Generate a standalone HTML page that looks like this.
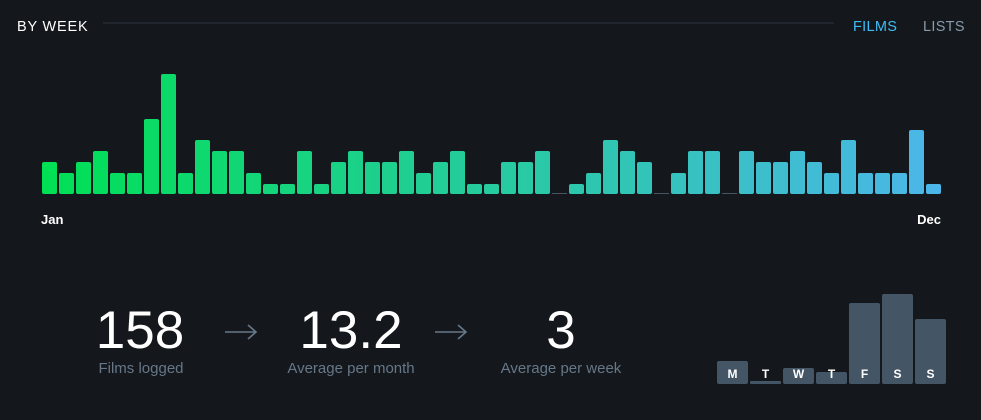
<!DOCTYPE html>
<html><head><meta charset="utf-8"><style>
html,body{margin:0;padding:0;background:#14181c;}
svg{display:block;font-family:"Liberation Sans",sans-serif;}
</style></head><body>
<svg width="981" height="420" viewBox="0 0 981 420" xmlns="http://www.w3.org/2000/svg">
<rect width="981" height="420" fill="#14181c"/>
<defs><linearGradient id="g" gradientUnits="userSpaceOnUse" x1="42" y1="0" x2="941" y2="0">
<stop offset="0" stop-color="#00e054"/><stop offset="1" stop-color="#4cb6ea"/></linearGradient></defs>
<text x="17" y="31" fill="#fff" font-size="14.5" letter-spacing="0.8">BY WEEK</text>
<rect x="103" y="22.5" width="731" height="1" fill="#2c3440"/>
<text x="853" y="31" fill="#40bcf4" font-size="14.5" letter-spacing="0.3">FILMS</text>
<text x="923" y="31" fill="#8899aa" font-size="14.5" letter-spacing="0.3">LISTS</text>
<g fill="url(#g)">
<rect x="42" y="162" width="15" height="32" rx="2"/>
<rect x="59" y="173" width="15" height="21" rx="2"/>
<rect x="76" y="162" width="15" height="32" rx="2"/>
<rect x="93" y="151" width="15" height="43" rx="2"/>
<rect x="110" y="173" width="15" height="21" rx="2"/>
<rect x="127" y="173" width="15" height="21" rx="2"/>
<rect x="144" y="119" width="15" height="75" rx="2"/>
<rect x="161" y="74" width="15" height="120" rx="2"/>
<rect x="178" y="173" width="15" height="21" rx="2"/>
<rect x="195" y="140" width="15" height="54" rx="2"/>
<rect x="212" y="151" width="15" height="43" rx="2"/>
<rect x="229" y="151" width="15" height="43" rx="2"/>
<rect x="246" y="173" width="15" height="21" rx="2"/>
<rect x="263" y="184" width="15" height="10" rx="2"/>
<rect x="280" y="184" width="15" height="10" rx="2"/>
<rect x="297" y="151" width="15" height="43" rx="2"/>
<rect x="314" y="184" width="15" height="10" rx="2"/>
<rect x="331" y="162" width="15" height="32" rx="2"/>
<rect x="348" y="151" width="15" height="43" rx="2"/>
<rect x="365" y="162" width="15" height="32" rx="2"/>
<rect x="382" y="162" width="15" height="32" rx="2"/>
<rect x="399" y="151" width="15" height="43" rx="2"/>
<rect x="416" y="173" width="15" height="21" rx="2"/>
<rect x="433" y="162" width="15" height="32" rx="2"/>
<rect x="450" y="151" width="15" height="43" rx="2"/>
<rect x="467" y="184" width="15" height="10" rx="2"/>
<rect x="484" y="184" width="15" height="10" rx="2"/>
<rect x="501" y="162" width="15" height="32" rx="2"/>
<rect x="518" y="162" width="15" height="32" rx="2"/>
<rect x="535" y="151" width="15" height="43" rx="2"/>
<rect x="569" y="184" width="15" height="10" rx="2"/>
<rect x="586" y="173" width="15" height="21" rx="2"/>
<rect x="603" y="140" width="15" height="54" rx="2"/>
<rect x="620" y="151" width="15" height="43" rx="2"/>
<rect x="637" y="162" width="15" height="32" rx="2"/>
<rect x="671" y="173" width="15" height="21" rx="2"/>
<rect x="688" y="151" width="15" height="43" rx="2"/>
<rect x="705" y="151" width="15" height="43" rx="2"/>
<rect x="739" y="151" width="15" height="43" rx="2"/>
<rect x="756" y="162" width="15" height="32" rx="2"/>
<rect x="773" y="162" width="15" height="32" rx="2"/>
<rect x="790" y="151" width="15" height="43" rx="2"/>
<rect x="807" y="162" width="15" height="32" rx="2"/>
<rect x="824" y="173" width="15" height="21" rx="2"/>
<rect x="841" y="140" width="15" height="54" rx="2"/>
<rect x="858" y="173" width="15" height="21" rx="2"/>
<rect x="875" y="173" width="15" height="21" rx="2"/>
<rect x="892" y="173" width="15" height="21" rx="2"/>
<rect x="909" y="130" width="15" height="64" rx="2"/>
<rect x="926" y="184" width="15" height="10" rx="2"/>
</g>
<g fill="#445566">
<rect x="552" y="193" width="15" height="1"/>
<rect x="654" y="193" width="15" height="1"/>
<rect x="722" y="193" width="15" height="1"/>
</g>
<text x="41" y="224" fill="#fff" font-size="13" font-weight="bold">Jan</text>
<text x="941" y="224" fill="#fff" font-size="13" font-weight="bold" text-anchor="end">Dec</text>
<g fill="#fff" font-size="53" text-anchor="middle">
<text x="140" y="348">158</text>
<text x="351" y="348">13.2</text>
<text x="561" y="348">3</text>
</g>
<g fill="#678" font-size="15" text-anchor="middle">
<text x="141" y="373">Films logged</text>
<text x="351" y="373">Average per month</text>
<text x="561" y="373">Average per week</text>
</g>
<g stroke="#678" stroke-width="1.6" fill="none">
<path d="M225 332H256M248 325L256 332L248 339"/>
<path d="M435 332H466M458 325L466 332L458 339"/>
</g>
<g fill="#445566">
<rect x="717" y="361" width="31" height="23" rx="2"/>
<rect x="750" y="381" width="31" height="3" rx="1"/>
<rect x="783" y="368" width="31" height="16" rx="2"/>
<rect x="816" y="372" width="31" height="12" rx="2"/>
<rect x="849" y="303" width="31" height="81" rx="2"/>
<rect x="882" y="294" width="31" height="90" rx="2"/>
<rect x="915" y="319" width="31" height="65" rx="2"/>
</g>
<g fill="#fff" font-size="12" font-weight="bold" text-anchor="middle">
<text x="732.5" y="378">M</text>
<text x="765.5" y="378">T</text>
<text x="798.5" y="378">W</text>
<text x="831.5" y="378">T</text>
<text x="864.5" y="378">F</text>
<text x="897.5" y="378">S</text>
<text x="930.5" y="378">S</text>
</g>
</svg>
</body></html>
